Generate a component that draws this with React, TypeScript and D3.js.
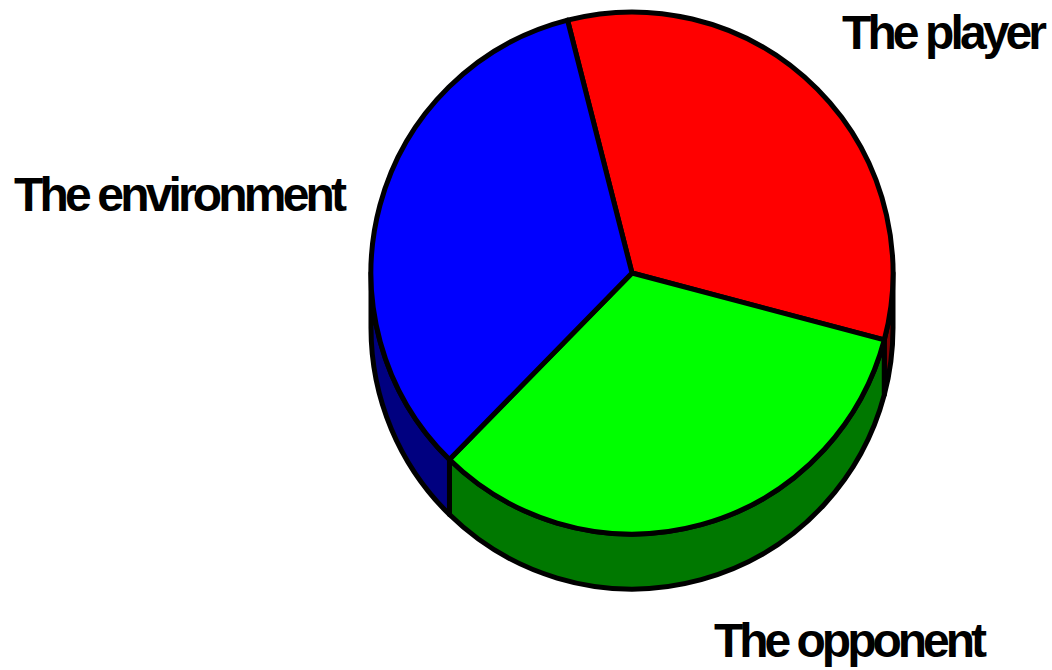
import React from "react";
import * as d3 from "d3";

const categories = ["The player", "The opponent", "The environment"];
const values = [33.1, 33.2, 33.7];
const topColors = ["#ff0000", "#00ff00", "#0000ff"];
const sideColors = ["#800000", "#007800", "#000080"];

const W = 1052, H = 670;
const cx = 632, cy = 273, R = 261, depth = 55;
const startAngle = (-14.3 * Math.PI) / 180;

const labels = [
  { x: 842, y: 49, len: 205 },
  { x: 714, y: 657, len: 273 },
  { x: 14, y: 211, len: 333 },
];

export default function App() {
  const pie = d3.pie<number>().sort(null).value((d) => d)
    .startAngle(startAngle).endAngle(startAngle + 2 * Math.PI);
  const arcs = pie(values);
  const arcGen = d3.arc<any>().innerRadius(0).outerRadius(R);

  const sides: { d: string; color: string }[] = [];
  arcs.forEach((a, i) => {
    for (let k = -1; k <= 1; k++) {
      const lo = Math.max(a.startAngle, Math.PI / 2 + k * 2 * Math.PI);
      const hi = Math.min(a.endAngle, (3 * Math.PI) / 2 + k * 2 * Math.PI);
      if (hi > lo) {
        const p = d3.path();
        const t0 = lo - Math.PI / 2, t1 = hi - Math.PI / 2;
        p.moveTo(cx + R * Math.cos(t0), cy + R * Math.sin(t0));
        p.arc(cx, cy, R, t0, t1, false);
        p.lineTo(cx + R * Math.cos(t1), cy + depth + R * Math.sin(t1));
        p.arc(cx, cy + depth, R, t1, t0, true);
        p.closePath();
        sides.push({ d: p.toString(), color: sideColors[i] });
      }
    }
  });

  return (
    <svg width={W} height={H} style={{ position: "absolute", left: 0, top: 0, background: "#fff" }}>
      <g>
        {sides.map((s, i) => (
          <path key={"s" + i} d={s.d} fill={s.color} stroke="#000" strokeWidth={5} strokeLinejoin="round" />
        ))}
        {arcs.map((a, i) => (
          <path key={"t" + i} d={arcGen(a) as string} transform={`translate(${cx},${cy})`}
            fill={topColors[i]} stroke="#000" strokeWidth={5} strokeLinejoin="round" />
        ))}
      </g>
      {categories.map((c, i) => (
        <text key={c} x={labels[i].x} y={labels[i].y} textLength={labels[i].len} lengthAdjust="spacing"
          fontFamily="'Liberation Sans', Arial, sans-serif" fontWeight="bold" fontSize={48} fill="#000">
          {c}
        </text>
      ))}
    </svg>
  );
}
